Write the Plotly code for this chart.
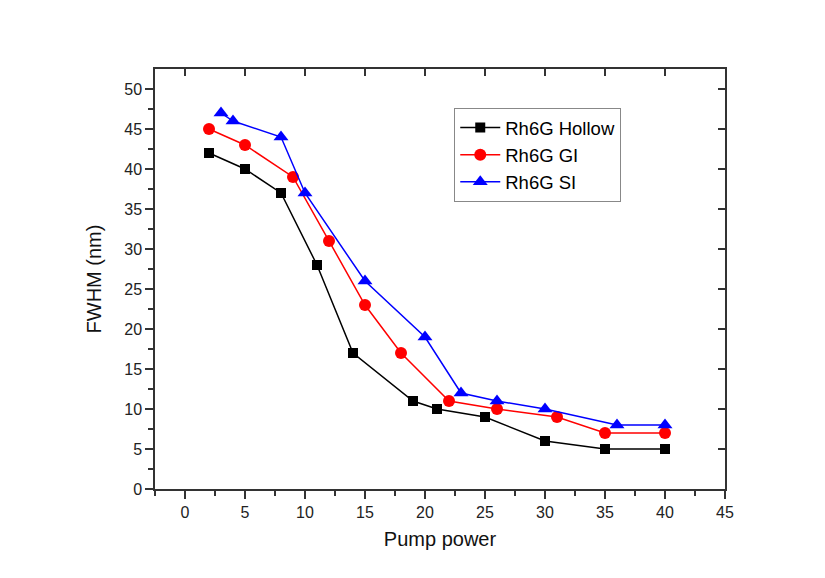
import plotly.graph_objects as go

hollow_x = [2, 5, 8, 11, 14, 19, 21, 25, 30, 35, 40]
hollow_y = [42, 40, 37, 28, 17, 11, 10, 9, 6, 5, 5]
gi_x = [2, 5, 9, 12, 15, 18, 22, 26, 31, 35, 40]
gi_y = [45, 43, 39, 31, 23, 17, 11, 10, 9, 7, 7]
si_x = [3, 4, 8, 10, 15, 20, 23, 26, 30, 36, 40]
si_y = [47, 46, 44, 37, 26, 19, 12, 11, 10, 8, 8]

x_ticks = [0, 5, 10, 15, 20, 25, 30, 35, 40, 45]
y_ticks = [0, 5, 10, 15, 20, 25, 30, 35, 40, 45, 50]

AX = "#333333"
FONT = "Liberation Sans, Arial"

fig = go.Figure()
fig.add_trace(go.Scatter(x=hollow_x, y=hollow_y, mode="lines+markers", name="Rh6G Hollow",
                         line=dict(color="black", width=1.5),
                         marker=dict(symbol="square", size=10, color="black")))
fig.add_trace(go.Scatter(x=gi_x, y=gi_y, mode="lines+markers", name="Rh6G GI",
                         line=dict(color="red", width=1.5),
                         marker=dict(symbol="circle", size=12, color="red")))
fig.add_trace(go.Scatter(x=si_x, y=si_y, mode="lines+markers", name="Rh6G SI",
                         line=dict(color="blue", width=1.5),
                         marker=dict(symbol="triangle-up", size=13, color="blue")))
# invisible trace for mirror axes
fig.add_trace(go.Scatter(x=[None], y=[None], xaxis="x2", yaxis="y2", showlegend=False, hoverinfo="skip"))

axis_common = dict(showgrid=False, zeroline=False, showline=True, linecolor=AX, linewidth=1.5,
                   ticks="outside", ticklen=8, tickwidth=1.5, tickcolor=AX,
                   tickfont=dict(family=FONT, size=16, color="#222222"))

fig.update_layout(
    width=825, height=578,
    paper_bgcolor="white", plot_bgcolor="white",
    margin=dict(l=147, r=108, t=61, b=97),
    font=dict(family=FONT, color="#222222"),
    xaxis=dict(range=[-2.5, 45], tickvals=x_ticks,
               minor=dict(tickvals=[-2.5 + 5 * i for i in range(10)], ticks="outside", ticklen=5,
                          tickwidth=1.5, tickcolor=AX),
               title=dict(text="Pump power", font=dict(size=20, color="#111111"), standoff=12), **axis_common),
    yaxis=dict(range=[0, 52.5], tickvals=y_ticks,
               minor=dict(tickvals=[2.5 + 5 * i for i in range(10)], ticks="outside", ticklen=5,
                          tickwidth=1.5, tickcolor=AX),
               title=dict(text="FWHM (nm)", font=dict(size=20, color="#111111"), standoff=17), **axis_common),
    xaxis2=dict(range=[-2.5, 45], overlaying="x", side="top", anchor="y2", showgrid=False, zeroline=False,
                showline=True, linecolor=AX, linewidth=1.5, ticks="inside", ticklen=7, tickwidth=1.5,
                tickcolor=AX, tickvals=x_ticks, showticklabels=False),
    yaxis2=dict(range=[0, 52.5], overlaying="y", side="right", anchor="x2", showgrid=False, zeroline=False,
                showline=True, linecolor=AX, linewidth=1.5, ticks="inside", ticklen=7, tickwidth=1.5,
                tickcolor=AX, tickvals=y_ticks, showticklabels=False),
    legend=dict(x=0.525, y=0.907, xanchor="left", yanchor="top",
                bordercolor="#888888", borderwidth=1, bgcolor="white",
                font=dict(family=FONT, size=18.5, color="black"),
                tracegroupgap=0, itemwidth=40),
    showlegend=True,
)

fig.write_html("out.html")
